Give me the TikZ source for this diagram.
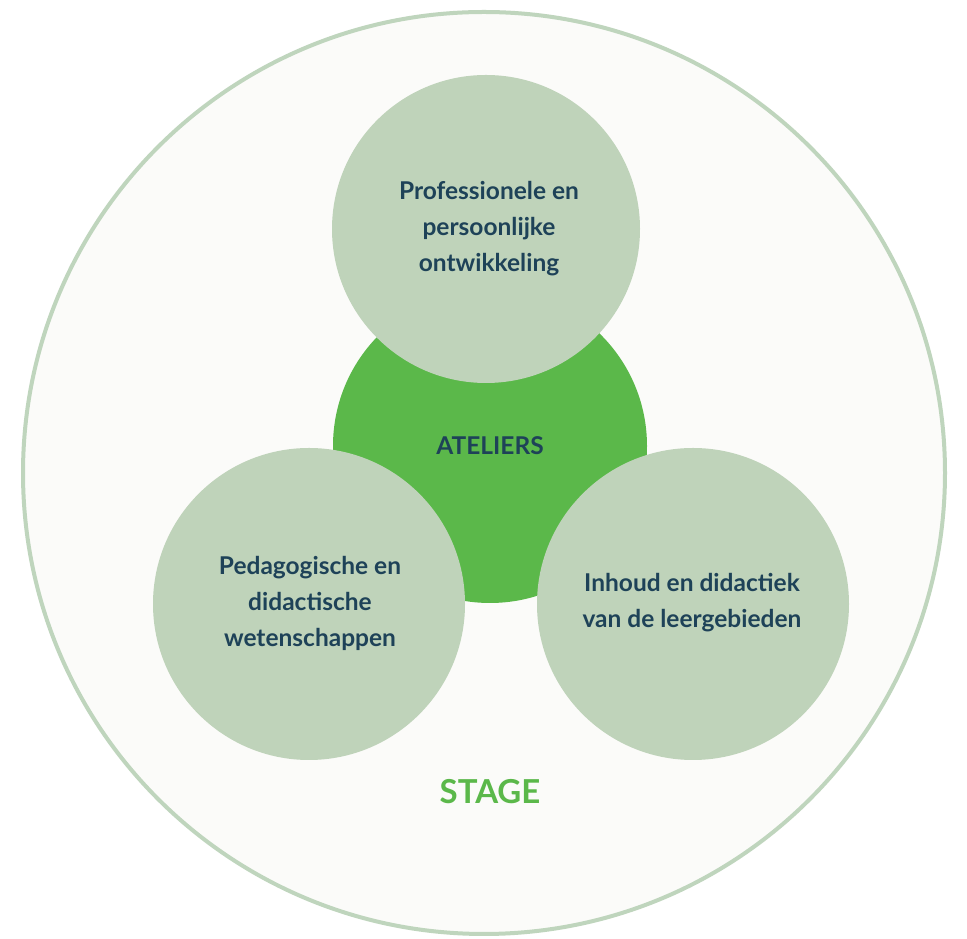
\documentclass[tikz,border=0pt]{standalone}
\usepackage{fontspec}
\setmainfont{Lato}
\definecolor{pale}{HTML}{BFD3BA}
\definecolor{ring}{HTML}{BFD5BD}
\definecolor{bg}{HTML}{FBFBF9}
\definecolor{txt}{HTML}{1E4258}
\definecolor{core}{HTML}{5BB84A}
\begin{document}
\begin{tikzpicture}[x=1pt,y=1pt,
  topic/.style={circle,fill=pale,inner sep=0pt},
  lbl/.style={align=center,text=txt,font=\fontsize{24.5}{36}\selectfont\bfseries},
]
\useasboundingbox (0,0) rectangle (967,939);
\fill[white] (0,0) rectangle (967,939);
\node[circle,draw=ring,line width=4pt,fill=bg,minimum size=922pt,inner sep=0pt] (outer) at (484,466) {};
\node[circle,fill=core,minimum size=314pt,inner sep=0pt] (ateliers) at (490,493) {};
\node[topic,minimum size=308pt] (top) at (486,710) {};
\node[topic,minimum size=312pt] (left) at (309,335) {};
\node[topic,minimum size=312pt] (right) at (693,335) {};
\node[lbl] (ttop) at (489,710.5) {Professionele en\\persoonlijke\\ontwikkeling};
\node[lbl] (tat) at (ateliers.center) {ATELIERS};
\node[lbl] (tright) at (692,336) {Inhoud en didactiek\\van de leergebieden};
\node[lbl] (tleft) at (310,335.5) {Pedagogische en\\didactische\\wetenschappen};
\node[text=core,font=\fontsize{33}{36}\selectfont\bfseries] (stage) at (490,147) {STAGE};
\end{tikzpicture}
\end{document}
